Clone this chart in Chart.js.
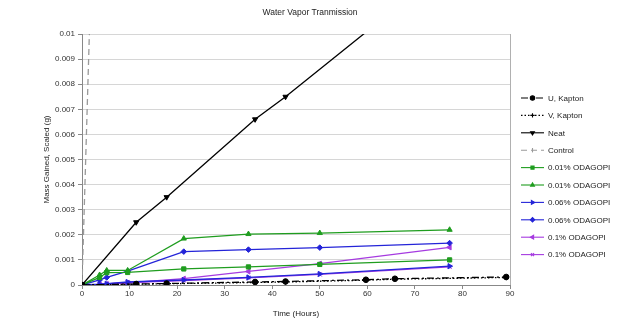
<!DOCTYPE html>
<html><head><meta charset="utf-8">
<script src="https://cdn.jsdelivr.net/npm/chart.js@4/dist/chart.umd.min.js"></script>
<style>html,body{margin:0;padding:0;background:#fff}#wrap{width:617px;height:331px}</style>
</head><body><div id="wrap"><canvas id="c" width="617" height="331"></canvas></div>
<script>
const chartTitle = "Water Vapor Tranmission";
const xTitle = "Time (Hours)";
const yTitle = "Mass Gained, Scaled (g)";
const seriesNames = ["U, Kapton","V, Kapton","Neat","Control","0.01% ODAGOPI","0.01% ODAGOPI","0.06% ODAGOPI","0.06% ODAGOPI","0.1% ODAGOPI","0.1% ODAGOPI"];

const timeKapton = [0, 11.4, 17.8, 36.4, 42.8, 59.7, 65.8, 89.2];
const uKapton    = [0, 0.00004, 0.00006, 0.00012, 0.00014, 0.00021, 0.00025, 0.00032];
const vKapton    = [0, 0.00003, 0.00005, 0.00010, 0.00012, 0.00019, 0.00023, 0.00030];

const timeNeat = [0, 11.4, 17.8, 36.4, 42.8, 65.8];
const neat     = [0, 0.0025, 0.0035, 0.0066, 0.0075, 0.0110];

const timeControl = [0, 3.1];
const control     = [0, 0.02];

const timeGopi = [0, 3.7, 5.2, 9.6, 21.4, 35.0, 50.0, 77.3];
const gopi001a = [0, 0.00030, 0.00049, 0.00050, 0.00064, 0.00072, 0.00082, 0.00100];
const gopi001b = [0, 0.00040, 0.00058, 0.00058, 0.00185, 0.00203, 0.00207, 0.00220];
const gopi006a = [0, 0.00003, 0.00005, 0.00012, 0.00020, 0.00030, 0.00044, 0.00075];
const gopi006b = [0, 0.00020, 0.00030, 0.00055, 0.00133, 0.00141, 0.00149, 0.00167];
const gopi01a  = [0, 0.00002, 0.00004, 0.00008, 0.00025, 0.00054, 0.00085, 0.00150];
const gopi01b  = [0, 0.00002, 0.00004, 0.00010, 0.00018, 0.00028, 0.00042, 0.00072];

const xTicks = [0,10,20,30,40,50,60,70,80,90];
const yTicks = [0,0.001,0.002,0.003,0.004,0.005,0.006,0.007,0.008,0.009,0.01];

const GREEN = "#1f9d1f", BLUE = "#2424d8", PURPLE = "#a63be0", GRAY = "#9a9a9a";
const FONT = "'Liberation Sans', Arial, sans-serif";

function pts(xs, ys){ return xs.map((x,i)=>({x:x, y:ys[i]})); }
function ds(label, xs, ys, color, style, rot, dash, radius){
  return {label, data: pts(xs, ys), borderColor: color, backgroundColor: color,
    pointStyle: style, pointRotation: rot||0, borderDash: dash||[], pointRadius: radius||2.8,
    pointBorderWidth: 1, borderWidth: 1.3, showLine: true, tension: 0, pointHoverRadius: 3};
}

const datasets = [
  ds(seriesNames[0], timeKapton, uKapton, "#000", "circle", 0, [7,3,2,3], 2.8),
  ds(seriesNames[1], timeKapton, vKapton, "#000", "cross", 0, [1.5,2], 2.8),
  ds(seriesNames[2], timeNeat, neat, "#000", "triangle", 180, [], 3),
  ds(seriesNames[3], timeControl, control, GRAY, "line", 90, [6,4], 3),
  ds(seriesNames[4], timeGopi, gopi001a, GREEN, "rect", 0, [], 3),
  ds(seriesNames[5], timeGopi, gopi001b, GREEN, "triangle", 0, [], 3),
  ds(seriesNames[6], timeGopi, gopi006a, BLUE, "triangle", 90, [], 3),
  ds(seriesNames[7], timeGopi, gopi006b, BLUE, "rectRot", 0, [], 2.8),
  ds(seriesNames[8], timeGopi, gopi01a, PURPLE, "triangle", -90, [], 3),
  ds(seriesNames[9], timeGopi, gopi01b, PURPLE, "crossRot", 0, [], 3)
];
datasets.forEach((d,i)=>{ d.order = i < 3 ? 0 : 1; });

const decor = {
  id: "decor",
  afterDraw(chart){
    const ctx = chart.ctx, a = chart.chartArea;
    ctx.save();
    ctx.strokeStyle = "#b0b0b0"; ctx.lineWidth = 1;
    ctx.beginPath(); ctx.moveTo(Math.round(a.right)+0.5, a.top); ctx.lineTo(Math.round(a.right)+0.5, a.bottom); ctx.stroke();
    ctx.fillStyle = "#222"; ctx.font = "8.5px " + FONT;
    ctx.textAlign = "center"; ctx.textBaseline = "middle";
    ctx.fillText(chartTitle, 310, 13);
    const x0 = 521, x1 = 544, tx = 548, y0 = 98, dy = 17.4;
    ctx.font = "8px " + FONT; ctx.textAlign = "left";
    chart.data.datasets.forEach((d, i) => {
      const y = y0 + i*dy;
      ctx.save();
      ctx.strokeStyle = d.borderColor; ctx.lineWidth = 1.1;
      ctx.setLineDash(d.borderDash || []);
      ctx.beginPath(); ctx.moveTo(x0, y); ctx.lineTo(x1, y); ctx.stroke();
      ctx.setLineDash([]);
      ctx.fillStyle = d.backgroundColor;
      Chart.helpers.drawPoint(ctx, {pointStyle: d.pointStyle, rotation: d.pointRotation, radius: 2.2, borderWidth: 1}, (x0+x1)/2, y);
      ctx.restore();
      ctx.fillStyle = "#222";
      ctx.fillText(d.label, tx, y + 0.5);
    });
    ctx.restore();
  }
};

new Chart(document.getElementById("c"), {
  type: "scatter",
  data: { datasets },
  options: {
    responsive: false, animation: false, devicePixelRatio: 1,
    layout: { padding: { left: 0, right: 107, top: 34, bottom: 0 } },
    plugins: { legend: { display: false }, title: { display: false }, tooltip: { enabled: false } },
    scales: {
      x: {
        type: "linear", min: 0, max: 90,
        afterFit: s => { s.height = 46; },
        afterBuildTicks: s => { s.ticks = xTicks.map(v => ({value: v})); },
        grid: { drawOnChartArea: false, drawTicks: true, tickLength: 4, color: "#888" },
        border: { color: "#888" },
        ticks: { padding: 0, color: "#333", font: { family: FONT, size: 8 }, maxRotation: 0 },
        title: { display: true, text: xTitle, color: "#222", font: { family: FONT, size: 8 }, padding: { top: 0, bottom: 12.6 } }
      },
      y: {
        type: "linear", min: 0, max: 0.01,
        afterFit: s => { s.width = 82; },
        afterBuildTicks: s => { s.ticks = yTicks.map(v => ({value: v})); },
        grid: { color: "#d6d6d6", drawTicks: true, tickLength: 4, tickColor: "#888" },
        border: { color: "#888" },
        ticks: { padding: 3, color: "#333", font: { family: FONT, size: 8 },
          callback: v => String(Number(v.toFixed(3))) },
        title: { display: true, text: yTitle, color: "#222", font: { family: FONT, size: 8 }, padding: { top: 41.6, bottom: 0 } }
      }
    }
  },
  plugins: [decor]
});
</script>
</body></html>
